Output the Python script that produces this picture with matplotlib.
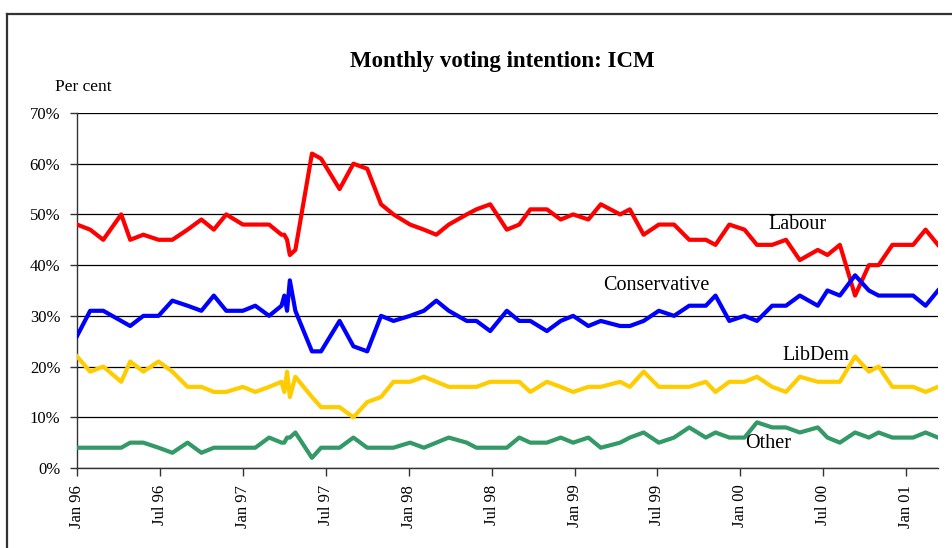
import matplotlib
matplotlib.use('Agg')
import matplotlib.pyplot as plt
from matplotlib.lines import Line2D

plt.rcParams['font.family'] = ['Liberation Serif', 'DejaVu Serif']

# months since Jan 96 (poll dates)
months = [0, 0.95, 1.9, 3.2, 3.85, 4.8, 5.9, 6.9, 8.0, 9.0, 9.9, 10.8, 12.0, 12.9,
          13.9, 14.8, 15.0, 15.2, 15.4, 15.8, 17.0, 17.66, 19.0, 20.0, 21.0, 22.0,
          22.9, 24.1, 25.1, 26.0, 26.9, 28.2, 28.9, 29.9, 31.1, 32.0, 32.8, 34.0,
          35.0, 35.9, 37.0, 37.9, 39.3, 40.0, 41.0, 42.1, 43.2, 44.3, 45.5, 46.2,
          47.2, 48.3, 49.2, 50.3, 51.3, 52.3, 53.6, 54.3, 55.2, 56.3, 57.3, 58.0,
          59.0, 60.5, 61.4, 62.3]

labour = [48, 47, 45, 50, 45, 46, 45, 45, 47, 49, 47, 50, 48, 48,
          48, 46, 46, 45, 42, 43, 62, 61, 55, 60, 59, 52,
          50, 48, 47, 46, 48, 50, 51, 52, 47, 48, 51, 51,
          49, 50, 49, 52, 50, 51, 46, 48, 48, 45, 45, 44,
          48, 47, 44, 44, 45, 41, 43, 42, 44, 34, 40, 40,
          44, 44, 47, 44]

conservative = [26, 31, 31, 29, 28, 30, 30, 33, 32, 31, 34, 31, 31, 32,
                30, 32, 34, 31, 37, 31, 23, 23, 29, 24, 23, 30,
                29, 30, 31, 33, 31, 29, 29, 27, 31, 29, 29, 27,
                29, 30, 28, 29, 28, 28, 29, 31, 30, 32, 32, 34,
                29, 30, 29, 32, 32, 34, 32, 35, 34, 38, 35, 34,
                34, 34, 32, 35]

libdem = [22, 19, 20, 17, 21, 19, 21, 19, 16, 16, 15, 15, 16, 15,
          16, 17, 15, 19, 14, 18, 14, 12, 12, 10, 13, 14,
          17, 17, 18, 17, 16, 16, 16, 17, 17, 17, 15, 17,
          16, 15, 16, 16, 17, 16, 19, 16, 16, 16, 17, 15,
          17, 17, 18, 16, 15, 18, 17, 17, 17, 22, 19, 20,
          16, 16, 15, 16]

other = [4, 4, 4, 4, 5, 5, 4, 3, 5, 3, 4, 4, 4, 4,
         6, 5, 5, 6, 6, 7, 2, 4, 4, 6, 4, 4,
         4, 5, 4, 5, 6, 5, 4, 4, 4, 6, 5, 5,
         6, 5, 6, 4, 5, 6, 7, 5, 6, 8, 6, 7,
         6, 6, 9, 8, 8, 7, 8, 6, 5, 7, 6, 7,
         6, 6, 7, 6]

tick_pos = [0, 6, 12, 18, 24, 30, 36, 42, 48, 54, 60]
tick_labels = ['Jan 96', 'Jul 96', 'Jan 97', 'Jul 97', 'Jan 98', 'Jul 98',
               'Jan 99', 'Jul 99', 'Jan 00', 'Jul 00', 'Jan 01']

fig = plt.figure(figsize=(9.52, 5.48), dpi=100)
ax = fig.add_axes([77 / 952, 1 - 468 / 548, (938 - 77) / 952, (468 - 113) / 548])

ax.plot(months, labour, color='#ff0000', lw=3, zorder=3)
ax.plot(months, conservative, color='#0000ff', lw=3, zorder=3)
ax.plot(months, libdem, color='#ffcc00', lw=3, zorder=3)
ax.plot(months, other, color='#339966', lw=3, zorder=3)

ax.set_xlim(0, 62.3)
ax.set_ylim(0, 70)
ax.set_yticks(range(0, 71, 10))
ax.set_yticklabels(['%d%%' % v for v in range(0, 71, 10)], fontsize=12)
ax.set_xticks(tick_pos)
ax.set_xticklabels(tick_labels, rotation=90, fontsize=12)
ax.tick_params(axis='y', length=5, width=1, pad=7, color='#333333')
ax.tick_params(axis='x', length=6, width=1, pad=6, color='#333333')
ax.yaxis.grid(True, color='black', lw=0.9)
ax.set_axisbelow(True)
for s in ['top', 'right']:
    ax.spines[s].set_visible(False)
for s in ['left', 'bottom']:
    ax.spines[s].set_color('#333333')
    ax.spines[s].set_linewidth(1)

ax.text(52.1, 48.1, 'Labour', fontsize=14.5, ha='center', va='center')
ax.text(41.9, 35.9, 'Conservative', fontsize=14.5, ha='center', va='center')
ax.text(53.5, 22.1, 'LibDem', fontsize=14.5, ha='center', va='center')
ax.text(50.0, 4.9, 'Other', fontsize=14.5, ha='center', va='center')

fig.text(502 / 952, 1 - 61 / 548, 'Monthly voting intention: ICM', fontsize=16.5,
         fontweight='bold', ha='center', va='center')
fig.text(55 / 952, 1 - 87 / 548, 'Per cent', fontsize=12.5, ha='left', va='center')

# outer frame (top and left edges visible)
fig.add_artist(Line2D([7 / 952, 1], [1 - 13.5 / 548, 1 - 13.5 / 548], color='#333333', lw=1.6))
fig.add_artist(Line2D([7 / 952, 7 / 952], [0, 1 - 13.5 / 548], color='#333333', lw=1.6))

fig.savefig('out.png', dpi=100)
